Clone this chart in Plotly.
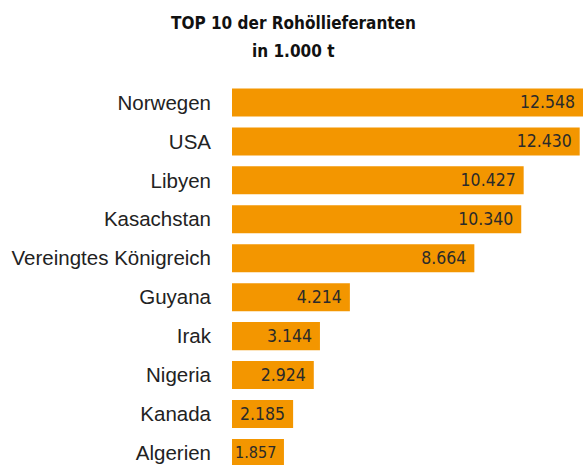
import plotly.graph_objects as go

countries = ["Norwegen", "USA", "Libyen", "Kasachstan", "Vereingtes Königreich",
             "Guyana", "Irak", "Nigeria", "Kanada", "Algerien"]
values = [12548, 12430, 10427, 10340, 8664, 4214, 3144, 2924, 2185, 1857]
value_labels = ["12.548", "12.430", "10.427", "10.340", "8.664",
                "4.214", "3.144", "2.924", "2.185", "1.857"]
title_lines = ["TOP 10 der Rohöllieferanten", "in 1.000 t"]

narrow = "DejaVu Sans Condensed, Liberation Sans Narrow, sans-serif"

fig = go.Figure(go.Bar(
    y=countries, x=values, orientation="h",
    marker=dict(color="#F39600", line=dict(width=0)),
    text=[v + " " for v in value_labels], textposition="inside", insidetextanchor="end",
    textfont=dict(family=narrow, size=17.5, color="#2a2a2a"),
    cliponaxis=True, width=0.72, hoverinfo="skip",
))

for line, yy in zip(title_lines, [22, 50]):
    fig.add_annotation(text="<b>%s</b>" % line, xref="paper", yref="paper",
                       x=(293 - 232) / 351, y=1 + (82.5 - yy) / 382.5,
                       xanchor="center", yanchor="middle", showarrow=False,
                       font=dict(family=narrow, size=17, color="#111"))

fig.update_layout(
    width=583, height=465,
    margin=dict(l=232, r=0, t=82.5, b=0, autoexpand=False),
    paper_bgcolor="white", plot_bgcolor="white",
    showlegend=False,
    uniformtext=dict(mode=False),
)
fig.update_xaxes(range=[0, 12548], visible=False, showgrid=False, zeroline=False,
                 automargin=False)
fig.update_yaxes(type="category", categoryorder="array", categoryarray=countries,
                 range=[9.31, -0.5], showgrid=False, zeroline=False, showline=False,
                 ticks="", ticklabelstandoff=20, automargin=False,
                 tickfont=dict(family="Liberation Sans, Arial, sans-serif", size=20.5, color="#222"))

fig.write_html("out.html", config={"displayModeBar": False},
               post_script="document.body.style.margin='0';document.body.style.overflow='hidden';")
